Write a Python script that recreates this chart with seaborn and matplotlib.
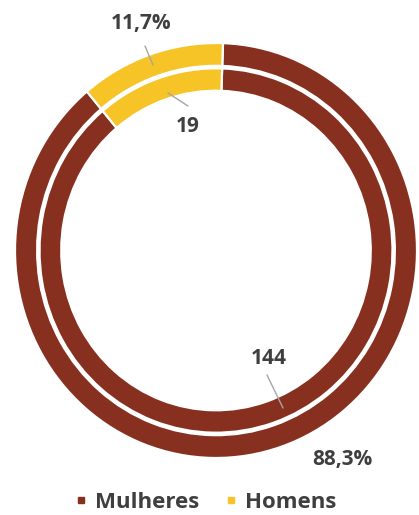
import numpy as np
import matplotlib
matplotlib.use("Agg")
import matplotlib.pyplot as plt
from matplotlib.lines import Line2D
import seaborn as sns

# Data
categories = ["Mulheres", "Homens"]
counts = [144, 19]
percent_labels = ["88,3%", "11,7%"]
colors = ["#88301F", "#F6C427"]

sns.set_theme(style="white")
plt.rcParams["font.family"] = ["Open Sans", "DejaVu Sans"]

W, H = 419, 515
fig = plt.figure(figsize=(W / 100, H / 100), dpi=100)
fig.patch.set_facecolor("white")

# ring box in pixels: x 15..417, y 43..458
CX, CY, RX, RY = 216.0, 250.5, 201.0, 207.5
ax = fig.add_axes([(CX - RX) / W, (H - (CY + RY)) / H, 2 * RX / W, 2 * RY / H])

start = 88
wedge_style = dict(edgecolor="white", linewidth=1.6)

ax.pie(counts, radius=1.0, colors=colors, startangle=start, counterclock=False,
       wedgeprops=dict(width=0.11, **wedge_style))
ax.pie(counts, radius=0.878, colors=colors, startangle=start, counterclock=False,
       wedgeprops=dict(width=0.108, **wedge_style))
ax.set_aspect("auto")
ax.set_xlim(-1, 1)
ax.set_ylim(-1, 1)
ax.axis("off")


def px(x, y):
    # pixel position -> data coordinates of the ring axes
    return (x - CX) / RX, (CY - y) / RY


txt = dict(fontsize=15, fontweight="bold", color="#3F3F3F", ha="center", va="center")
line = dict(arrowstyle="-", color="#A5A5A5", lw=1.0, shrinkA=0, shrinkB=0)


def label(text, pos):
    ax.annotate(text, xy=px(*pos), xytext=px(*pos), annotation_clip=False, **txt)


def leader(p0, p1):
    ax.annotate("", xy=px(*p1), xytext=px(*p0), arrowprops=line, annotation_clip=False)


# outer ring: percentages
label(percent_labels[1], (141, 23))
leader((145, 46), (153, 65))
label(percent_labels[0], (342, 460))

# inner ring: counts
label(str(counts[1]), (188, 126))
leader((188, 106), (168, 93))
label(str(counts[0]), (269, 359))
leader((267, 375), (283, 408))

handles = [Line2D([0], [0], marker="s", linestyle="none", markersize=5,
                  markerfacecolor=c, markeredgecolor=c) for c in colors]
leg = fig.legend(handles, categories, loc="center", bbox_to_anchor=(203 / W, 1 - 502 / H),
                 ncol=2, frameon=False, handletextpad=0.15, columnspacing=0.9,
                 handlelength=1.0, prop=dict(size=16, weight="bold"))
for t in leg.get_texts():
    t.set_color("#3F3F3F")

fig.savefig("out.png", dpi=100, facecolor="white")
